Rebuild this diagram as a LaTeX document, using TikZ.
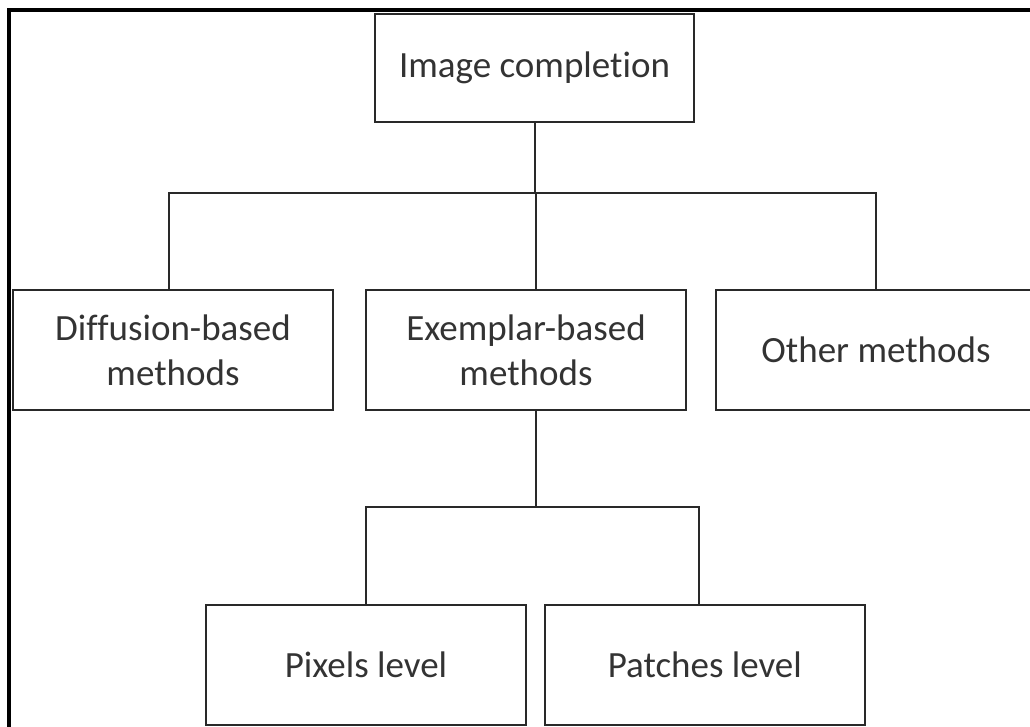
\documentclass[tikz,border=0pt]{standalone}
\usepackage{fontspec}
\setmainfont{Carlito}[Ligatures={NoCommon}]
\usetikzlibrary{positioning}
\definecolor{lineGray}{rgb}{0.16,0.16,0.16}
\definecolor{textGray}{rgb}{0.2,0.2,0.2}
\tikzset{
  method/.style={
    draw=lineGray,
    line width=1.8pt,
    text=textGray,
    align=center,
    inner sep=0pt,
    minimum width=320pt,
    minimum height=120pt,
    font=\fontsize{37}{45}\selectfont
  },
  link/.style={
    draw=lineGray,
    line width=2pt
  }
}

\begin{document}
\begin{tikzpicture}[x=1pt, y=1pt]
      \clip (0,0) rectangle (1030,727);
      \useasboundingbox (0,0) rectangle (1030,727);

      % outer frame, cut off on the right and at the bottom
      \draw[line width=4pt] (9,-5) -- (9,717) -- (1040,717);

      \node[method, minimum width=319pt, minimum height=108pt] (root) at (534.5,659) {Image completion};

      \foreach \n/\x/\t in {diff/173/{Diffusion-based\\methods},
                            exem/526/{Exemplar-based\\methods},
                            other/876/{Other methods}}{
        \node[method] (\n) at (\x,377) {\t};
      }

      \node[method] (pix) at (366,62) {Pixels level};
      \node[method, right=17pt of pix] (pat) {Patches level};

      \coordinate (bus1) at (535.5,534);
      \coordinate (bus2) at (535.5,219.5);

      \draw[link] (root.south) -- (root.south |- bus1);
      \draw[link] ([xshift=-4pt]diff.north) |- (bus1) -| (other.north);
      \draw[link] (bus1) -- ([xshift=9.5pt]exem.north);
      \draw[link] ([xshift=9.5pt]exem.south) -- (bus2);
      \draw[link] (pix.north) |- (bus2) -| ([xshift=-6pt]pat.north);
    \end{tikzpicture}
\end{document}
